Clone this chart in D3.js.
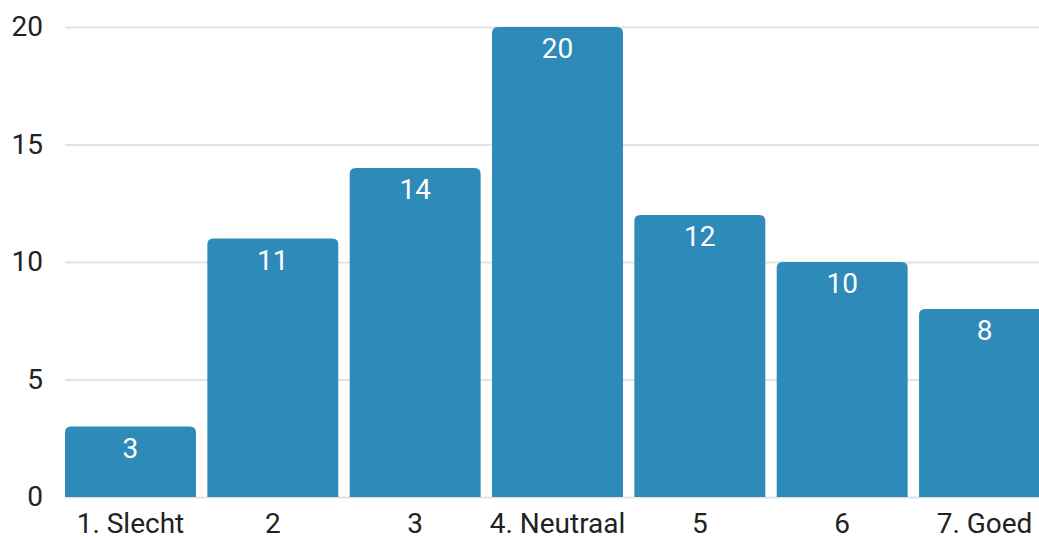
<!DOCTYPE html>
<html>
<head>
<meta charset="utf-8">
<script src="https://cdn.jsdelivr.net/npm/d3@7"></script>
<style>
  html, body { margin: 0; padding: 0; background: #fff; overflow: hidden; }
  svg { display: block; font-family: Roboto, "Noto Sans", sans-serif; }
</style>
</head>
<body>
<svg id="chart" width="1039" height="539"></svg>
<script>
// Responses per rating (1 = Slecht … 7 = Goed)
const categories = ["1. Slecht", "2", "3", "4. Neutraal", "5", "6", "7. Goed"];
const counts = [3, 11, 14, 20, 12, 10, 8];
const yTicks = [0, 5, 10, 15, 20];

const W = 1039, H = 539;
const svg = d3.select("#chart");

const x = d3.scaleBand()
  .domain(categories)
  .range([65, 1050])
  .paddingInner(0.08)
  .paddingOuter(0);

const y = d3.scaleLinear()
  .domain([0, 20])
  .range([497, 27]);

// horizontal gridlines
svg.append("g")
  .selectAll("line")
  .data(yTicks)
  .join("line")
  .attr("x1", 65)
  .attr("x2", W)
  .attr("y1", d => y(d) + 0.5)
  .attr("y2", d => y(d) + 0.5)
  .attr("stroke", "#e3e3e3")
  .attr("stroke-width", 2);

// y-axis labels
const yAxis = d3.axisLeft(y).tickValues(yTicks).tickSize(0).tickPadding(0);
const gy = svg.append("g").attr("transform", "translate(43,0)").call(yAxis);
gy.select(".domain").remove();
gy.selectAll("text")
  .attr("font-size", 28)
  .attr("font-family", "Roboto, sans-serif")
  .attr("fill", "#222");

// bars with rounded top corners
const r = 6;
function barPath(d, i) {
  const x0 = x(categories[i]);
  const w = x.bandwidth();
  const top = y(d);
  const bottom = y(0);
  return `M${x0},${bottom}V${top + r}Q${x0},${top} ${x0 + r},${top}` +
         `H${x0 + w - r}Q${x0 + w},${top} ${x0 + w},${top + r}V${bottom}Z`;
}
svg.append("g")
  .selectAll("path")
  .data(counts)
  .join("path")
  .attr("d", barPath)
  .attr("fill", "#2e8ab8");

// value labels inside bars
svg.append("g")
  .selectAll("text")
  .data(counts)
  .join("text")
  .attr("x", (d, i) => x(categories[i]) + x.bandwidth() / 2)
  .attr("y", d => y(d) + 31)
  .attr("text-anchor", "middle")
  .attr("font-size", 28)
  .attr("fill", "#fff")
  .text(d => d);

// x-axis labels
const xAxis = d3.axisBottom(x).tickSize(0).tickPadding(0);
const gx = svg.append("g").attr("transform", "translate(0,510)").call(xAxis);
gx.select(".domain").remove();
gx.selectAll("text")
  .attr("dy", null)
  .attr("y", 23)
  .attr("font-size", 28)
  .attr("font-family", "Roboto, sans-serif")
  .attr("fill", "#222");
</script>
</body>
</html>
